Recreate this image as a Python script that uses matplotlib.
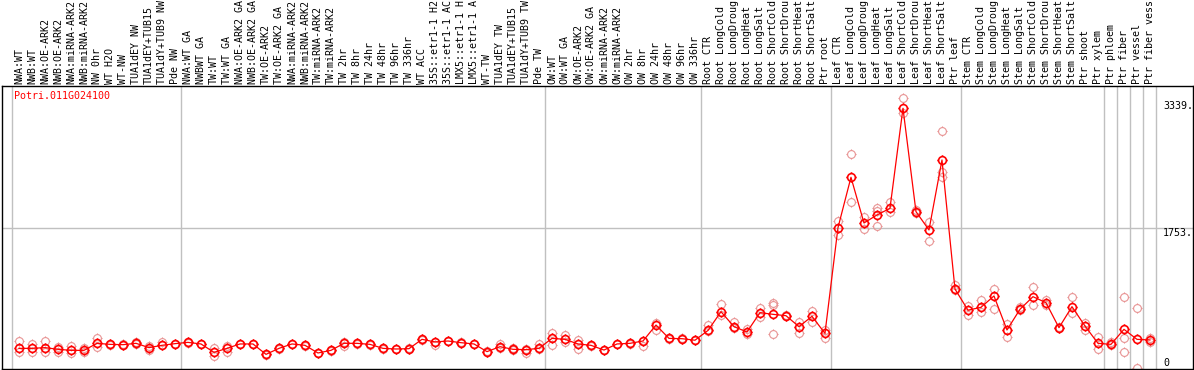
import matplotlib
matplotlib.use("Agg")
import matplotlib.pyplot as plt
import matplotlib.transforms as mtrans
from matplotlib.path import Path

gene = "Potri.011G024100"

# sample names as printed (the source cuts them at 14 characters)
samples = [
    "NWA:WT", "NWB:WT", "NWA:OE-ARK2", "NWB:OE-ARK2", "NWA:miRNA-ARK2", "NWB:miRNA-ARK2",
    "NW 0hr", "WT H2O", "WT-NW", "TUA1dEY NW", "TUA1dEY+TUB15", "TUA1dY+TUB9 NW", "Pde NW",
    "NWA:WT GA", "NWBWT GA", "TW:WT", "TW:WT GA", "NWA:OE-ARK2 GA", "NWB:OE-ARK2 GA",
    "TW:OE-ARK2", "TW:OE-ARK2 GA", "NWA:miRNA-ARK2", "NWB:miRNA-ARK2", "TW:miRNA-ARK2",
    "TW:miRNA-ARK2", "TW 2hr", "TW 8hr", "TW 24hr", "TW 48hr", "TW 96hr", "TW 336hr",
    "WT ACC", "35S::etr1-1 H2", "35S::etr1-1 AC", "LMX5::etr1-1 H", "LMX5::etr1-1 A",
    "WT-TW", "TUA1dEY TW", "TUA1dEY+TUB15", "TUA1dY+TUB9 TW", "Pde TW",
    "OW:WT", "OW:WT GA", "OW:OE-ARK2", "OW:OE-ARK2 GA", "OW:miRNA-ARK2", "OW:miRNA-ARK2",
    "OW 2hr", "OW 8hr", "OW 24hr", "OW 48hr", "OW 96hr", "OW 336hr",
    "Root CTR", "Root LongCold", "Root LongDroug", "Root LongHeat", "Root LongSalt",
    "Root ShortCold", "Root ShortDrou", "Root ShortHeat", "Root ShortSalt", "Ptr root",
    "Leaf CTR", "Leaf LongCold", "Leaf LongDroug", "Leaf LongHeat", "Leaf LongSalt",
    "Leaf ShortCold", "Leaf ShortDrou", "Leaf ShortHeat", "Leaf ShortSalt", "Ptr leaf",
    "Stem CTR", "Stem LongCold", "Stem LongDroug", "Stem LongHeat", "Stem LongSalt",
    "Stem ShortCold", "Stem ShortDrou", "Stem ShortHeat", "Stem ShortSalt", "Ptr shoot",
    "Ptr xylem", "Ptr phloem", "Ptr fiber", "Ptr vessel", "Ptr fiber vess",
]

means = [
    246, 246, 255, 234, 221, 221, 309, 296, 292, 309, 255, 284, 305,
    321, 301, 196, 246, 301, 301, 171, 246, 301, 284, 188, 221, 309, 309, 296, 246,
    238, 242, 359, 326, 338, 317, 301, 205, 267, 234, 230, 246,
    371, 359, 301, 284, 225, 301, 309, 338, 538, 371, 367, 348,
    470, 705, 518, 451, 693, 672, 655, 518, 647, 434,
    1757, 2388, 1816, 1916, 1999, 3252, 1958, 1728, 2605, 989,
    724, 760, 902, 476, 735, 893, 818, 505, 768, 526,
    309, 296, 484, 359, 351,
]

replicates = [
    [338, 196], [296, 205], [338, 205], [267, 205], [280, 184], [246, 205],
    [380, 267], [305, 288], [296, 284], [321, 305], [275, 225], [330, 288], [305, 301],
    [321, 317], [305, 296], [246, 150], [280, 205], [305, 296], [305, 296], [175, 165],
    [250, 240], [305, 296], [288, 280], [192, 184], [225, 217], [330, 275], [313, 305],
    [300, 292], [250, 242], [242, 234], [246, 238], [363, 355], [326, 288], [342, 334],
    [321, 313], [305, 296], [209, 201], [301, 246], [250, 225], [234, 184], [301, 242],
    [434, 288], [413, 330], [351, 234], [288, 280], [229, 221], [305, 296], [313, 305],
    [342, 275], [559, 476], [375, 367], [371, 363], [355, 345],
    [538, 460], [801, 664], [572, 497], [488, 422], [756, 643], [810, 789, 422],
    [660, 650], [572, 434], [718, 580], [476, 371],
    [1841, 1665], [2676, 2074], [1887, 1736], [1999, 1966, 1778], [2083, 1949],
    [3377, 3189], [1978, 1937], [1824, 1590], [2968, 2450, 2396], [1039, 977],
    [781, 664], [851, 705], [985, 735], [551, 392], [768, 726], [1010, 789],
    [851, 789], [509, 501], [885, 685], [568, 476],
    [384, 234], [330, 288], [893, 371, 196], [747, 0], [371, 330],
]

# group separators (after these column counts)
group_breaks = [0, 13, 41, 53, 63, 73, 84, 85, 86, 87, 88]
ref_value = 1753
max_label = 3339

mono = "DejaVu Sans Mono"
fs = 7.2

# circle marker with tiny ticks
circ = Path.unit_circle()
t = 1.3
ticks = Path([(0, 1), (0, t), (0, -1), (0, -t), (1, 0), (t, 0), (-1, 0), (-t, 0)],
             [Path.MOVETO, Path.LINETO] * 4)
marker = Path.make_compound_path(circ, ticks)

fig = plt.figure(figsize=(11.94, 3.70), dpi=100)
ax = fig.add_axes([1.5 / 1194, 1 / 370, (1193 - 1.5) / 1194, 283 / 370])

x = list(range(1, len(samples) + 1))

for gb in group_breaks:
    ax.axvline(gb + 0.5, color="#c0c0c0", lw=1, zorder=0)
ax.axhline(ref_value, color="#c0c0c0", lw=1, zorder=0)

for xi, reps in zip(x, replicates):
    ax.plot([xi] * len(reps), reps, linestyle="none", marker=marker, ms=7.3,
            mfc="none", mec="#e89494", mew=0.8, zorder=2)

ax.plot(x, means, color="red", lw=0.9, zorder=3)
ax.plot(x, means, linestyle="none", marker=marker, ms=7.3, mfc="none",
        mec="red", mew=1.2, zorder=4)

ax.set_xlim(-0.346, 91.31)
ax.set_ylim(-12.5, 3531)
ax.set_xticks([])
ax.set_yticks([])
for s in ax.spines.values():
    s.set_color("black")
    s.set_linewidth(1)

ax.text(0.6, 3400, gene, color="red", fontsize=fs, family=mono, va="center", ha="left")

ax.text(89.0, max_label, "%d." % max_label, fontsize=fs, family=mono, va="top", ha="left")
ax.text(89.0, ref_value, "%d." % ref_value, fontsize=fs, family=mono, va="top", ha="left")
ax.text(89.0, 0, "0", fontsize=fs, family=mono, va="bottom", ha="left")

trans = mtrans.offset_copy(ax.get_xaxis_transform(), fig=fig, x=0, y=2, units="dots")
for xi, lab in zip(x, samples):
    ax.text(xi, 1.0, lab, rotation=90, transform=trans, fontsize=fs, family=mono,
            ha="center", va="bottom", clip_on=False)

fig.savefig("out.png", dpi=100)
